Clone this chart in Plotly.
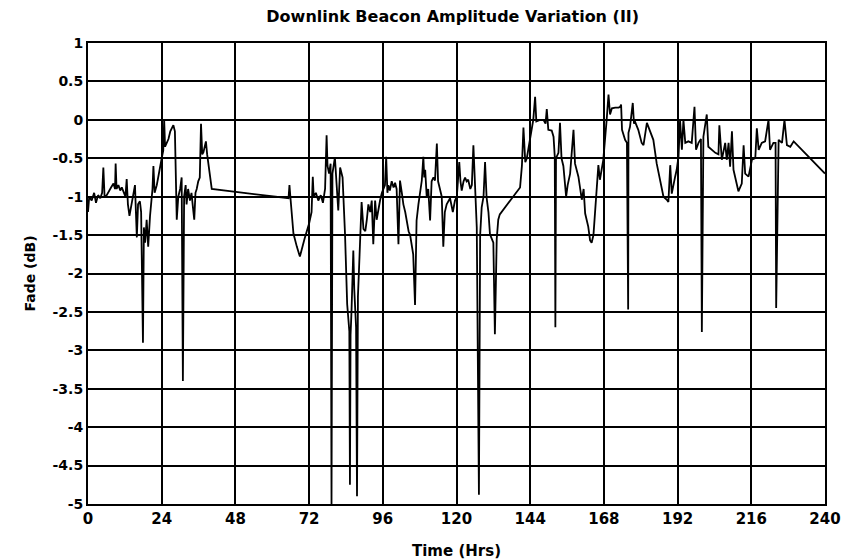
import plotly.graph_objects as go

# Time (hours) and fade (dB)
time_hrs = [
    0, 0.4, 1.2, 2.0, 2.6, 3.3, 4.0, 4.6, 5.0, 5.4, 6.1, 6.8, 7.5, 8.3, 8.8, 9.0, 9.3, 9.9,
    10.5, 11.0, 11.6, 12.2, 12.6, 13.0, 13.5, 14.0, 14.5, 14.8, 15.3, 15.6, 15.9, 16.3, 16.9,
    17.3, 17.9, 18.2, 18.6, 19.1, 19.6, 20.2, 20.7, 21.0, 21.3, 21.7, 22.4, 23.0, 23.5, 24.0,
    24.5, 24.8, 25.1, 25.6, 26.2, 26.8, 27.3, 27.8, 28.3, 28.9, 29.4, 30.0, 30.5, 30.9, 31.3,
    31.8, 32.1, 32.6, 33.2, 33.7, 34.2, 34.6, 35.0, 35.4, 35.9, 36.4, 36.8, 37.2, 37.6, 38.0,
    38.4, 38.8, 40.3,
    65.3, 65.6, 66.0, 66.9, 68.0, 69.0, 70.5, 72.0, 72.8, 73.2, 73.5, 74.2, 75.0, 75.8, 76.5,
    77.2, 77.7, 78.0, 78.5, 79.0, 79.3, 79.6, 80.4, 81.0, 81.5, 82.1, 82.9, 83.7, 84.0, 84.4,
    84.8, 85.1, 85.3, 85.5, 85.8, 86.1, 86.4, 86.7, 87.0, 87.3, 87.6, 87.9, 88.3, 88.7,
    89.1, 89.7, 90.3, 90.8, 91.3, 91.9, 92.4, 92.9, 93.5, 94.0, 94.6, 95.1, 95.7, 96.2, 96.7,
    97.1, 97.5, 97.8, 98.3, 98.9, 99.5, 100.0, 100.5, 101.1, 101.6, 102.2, 102.7, 103.3,
    103.8, 104.4, 104.9, 105.4, 105.9, 106.5, 106.8, 107.0, 107.6, 108.1, 108.7, 109.2,
    109.5, 109.8, 110.3, 110.8, 111.4, 111.9, 112.5, 113.0, 113.6, 114.0, 114.6, 115.2,
    115.7, 116.2, 116.8, 117.4, 117.9, 118.8, 119.5, 120.1, 120.9, 121.3, 121.7, 122.3,
    122.8, 123.3, 123.8, 124.5, 125.0, 125.5, 126.0, 126.6, 127.3, 127.7, 128.2, 128.8,
    129.3, 129.8, 130.4, 130.9, 131.5, 132.0, 132.5, 133.1, 133.6, 134.1,
    140.7, 141.3, 141.8, 142.4, 142.9, 143.9, 144.5, 145.0, 145.6, 146.0, 147.2, 148.3,
    149.0, 149.4, 149.9, 150.5, 151.0, 151.6, 152.0, 152.2, 152.4, 153.2, 153.7, 154.2,
    154.8, 155.7, 156.2, 157.0, 158.1, 158.6, 159.7, 160.8, 161.4, 161.9, 162.9, 163.5,
    164.0, 164.6, 165.6, 166.2, 166.7, 167.8, 168.9, 169.5, 170.0, 170.6, 171.7, 172.8,
    173.3, 173.6, 173.9, 174.9, 175.5, 175.9, 176.0, 176.5, 177.4, 177.8, 178.1, 179.2,
    180.3, 180.9, 182.0, 183.0, 184.1, 185.2, 186.3, 187.4, 188.5, 189.0, 189.6, 190.1,
    191.2, 191.7, 192.3, 192.8, 193.4, 193.9, 194.5, 195.5, 196.6, 197.5, 198.0, 198.8,
    199.6, 199.9, 200.4, 201.5, 202.0, 203.1, 204.3, 205.3, 205.6, 206.4, 207.5, 208.0,
    208.6, 209.1, 209.7, 210.2, 211.3, 211.8, 212.9, 213.5, 214.0, 215.1, 216.2, 217.3,
    217.8, 218.4, 219.4, 220.5, 221.6, 222.1, 223.2, 223.9, 224.1, 224.9, 226.0, 226.8,
    227.6, 228.7, 229.8, 240.0,
]

fade_db = [
    -1.2, -1.0, -1.05, -0.95, -1.08, -0.98, -1.02, -0.95, -0.62, -1.0, -0.98, -0.92, -0.88,
    -0.83, -0.9, -0.57, -0.9, -0.85,
    -0.92, -0.88, -0.95, -1.0, -0.77, -1.1, -1.25, -1.15, -1.05, -1.0, -0.85, -1.2, -1.53,
    -1.1, -1.06,
    -1.2, -2.9, -1.4, -1.6, -1.3, -1.65, -1.25, -1.05, -0.9, -0.6, -0.95, -0.85, -0.7, -0.62,
    -0.5,
    -0.4, 0.0, -0.35, -0.3, -0.25, -0.15, -0.1, -0.07, -0.15, -1.3, -1.0, -0.9, -0.75, -3.4,
    -1.0,
    -0.85, -1.1, -0.9, -1.05, -0.95, -1.15, -1.3, -0.95, -0.9, -0.8, -0.75, -0.05, -0.45,
    -0.42, -0.35,
    -0.28, -0.45, -0.9,
    -1.02, -0.85, -1.05, -1.48, -1.65, -1.78, -1.55, -1.35, -1.2, -0.74, -1.0, -0.95, -1.05,
    -0.98, -1.08,
    -0.9, -0.2, -0.6, -0.7, -0.57, -5.0, -0.7, -0.49, -0.8, -1.18, -0.62, -0.75, -1.49, -2.0,
    -2.4,
    -2.6, -2.75, -4.75, -2.8, -2.5, -2.0, -1.7, -2.2, -2.6, -2.7, -4.9, -2.3, -1.9, -1.5,
    -1.07, -1.42, -1.45, -1.3, -1.1, -1.2, -1.05, -1.62, -1.05, -1.3, -1.15, -1.05, -0.95,
    -0.9, -0.85,
    -0.48, -0.95, -0.85, -0.92, -0.8, -0.88, -0.82, -0.9, -1.62, -0.79, -0.95, -1.1, -1.2,
    -1.3, -1.45, -1.5, -1.62, -1.75, -2.41, -1.6, -1.31, -1.1, -0.95, -0.79, -0.48,
    -0.75, -0.65, -1.0, -0.9, -1.31, -0.8, -0.75, -0.79, -0.31, -0.8, -0.92, -1.0,
    -1.65, -1.2, -1.1, -1.05, -1.02, -1.2, -1.05, -1.0, -0.55, -0.8, -0.92, -0.8,
    -0.75, -0.8, -0.78, -0.9, -0.85, -0.33, -0.92, -1.4, -4.88, -1.5, -1.14, -1.0,
    -0.55, -1.01, -1.2, -1.49, -1.55, -1.6, -2.79, -1.55, -1.3, -1.23,
    -0.88, -0.6, -0.1, -0.55, -0.5, -0.27, -0.1, 0.0, 0.3, -0.02, 0.0, 0.0,
    -0.05, 0.14, -0.13, -0.14, -0.14, -0.22, -0.48, -2.7, -0.5, -0.43, -0.04, -0.5,
    -0.6, -1.0, -0.85, -0.7, -0.13, -0.57, -0.74, -1.04, -0.9, -1.22, -1.39, -1.57,
    -1.6, -1.5, -0.87, -0.59, -0.78, -0.52, 0.0, 0.33, 0.07, 0.15, 0.16, 0.16,
    0.17, 0.2, -0.13, -0.26, -0.3, -2.47, -0.17, -0.09, 0.22, -0.05, -0.02, -0.13,
    -0.3, -0.33, -0.04, -0.15, -0.26, -0.57, -0.78, -1.0, -1.04, -1.07, -0.59, -0.96,
    -0.74, -0.65, -0.48, 0.0, -0.39, 0.0, -0.3, -0.28, -0.3, 0.17, -0.39, -0.3,
    -0.25, -2.76, -0.22, 0.07, -0.35, -0.39, -0.43, -0.45, -0.07, -0.52, -0.3, -0.52,
    -0.3, -0.61, -0.15, -0.65, -0.87, -0.93, -0.83, -0.33, -0.7, -0.74, -0.52, -0.5,
    -0.11, -0.39, -0.3, -0.28, 0.0, -0.39, -0.3, -0.3, -2.45, -0.26, -0.3, 0.0,
    -0.33, -0.35, -0.28, -0.7,
]

x_ticks = [0, 24, 48, 72, 96, 120, 144, 168, 192, 216, 240]
y_ticks = [1, 0.5, 0, -0.5, -1, -1.5, -2, -2.5, -3, -3.5, -4, -4.5, -5]
y_labels = ["1", "0.5", "0", "-0.5", "-1", "-1.5", "-2", "-2.5", "-3", "-3.5", "-4", "-4.5", "-5"]

font = "DejaVu Sans, Arial, sans-serif"

fig = go.Figure()
fig.add_trace(go.Scatter(
    x=time_hrs, y=fade_db, mode="lines",
    line=dict(color="black", width=1.8),
    showlegend=False,
))

fig.update_layout(
    width=851, height=560,
    margin=dict(l=88, r=26, t=43, b=56),
    paper_bgcolor="white", plot_bgcolor="white",
    title=dict(text="<b>Downlink Beacon Amplitude Variation (II)</b>",
               x=0.532, xanchor="center", y=0.97, yanchor="middle",
               font=dict(family=font, size=16, color="black")),
    font=dict(family=font, color="black"),
)

fig.update_xaxes(
    range=[0, 240], tickvals=x_ticks, ticktext=[f"<b>{v}</b>" for v in x_ticks],
    tickfont=dict(size=15, family=font, color="black"),
    showgrid=True, gridcolor="black", gridwidth=1.8,
    showline=True, linecolor="black", linewidth=2, mirror=True,
    zeroline=False, ticks="", automargin=False,
    title=dict(text="<b>Time (Hrs)</b>", font=dict(size=15, family=font, color="black"), standoff=18),
)
fig.update_yaxes(
    range=[-5, 1], tickvals=y_ticks, ticktext=[f"<b>{s}</b>" for s in y_labels],
    tickfont=dict(size=14, family=font, color="black"),
    showgrid=True, gridcolor="black", gridwidth=1.8,
    showline=True, linecolor="black", linewidth=2, mirror=True,
    zeroline=False, ticks="", automargin=False,
    title=dict(text="<b>Fade (dB)</b>", font=dict(size=14, family=font, color="black"), standoff=14),
)

fig.write_html("out.html")
